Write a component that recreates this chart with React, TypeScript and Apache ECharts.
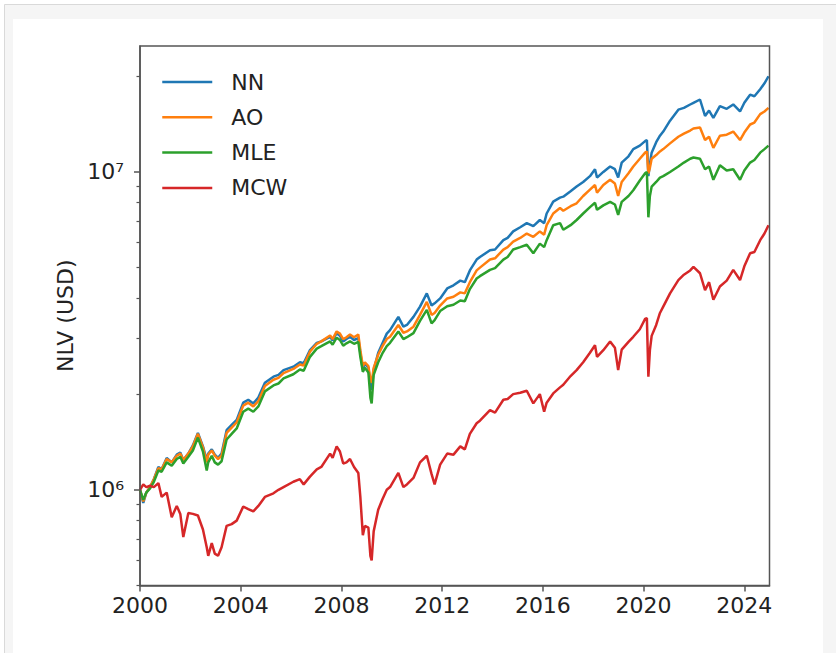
import React, { useEffect, useRef } from "react";
import * as echarts from "echarts";

// decimal years
const dates = [
  2000.0, 2000.13, 2000.25, 2000.4, 2000.55, 2000.73, 2000.86, 2001.06, 2001.26, 2001.46,
  2001.6, 2001.72, 2001.92, 2002.1, 2002.3, 2002.5, 2002.65, 2002.71, 2002.85, 2002.97,
  2003.1, 2003.24, 2003.44, 2003.64, 2003.84, 2004.1, 2004.3, 2004.5, 2004.7, 2004.96,
  2005.3, 2005.5, 2005.7, 2006.09, 2006.35, 2006.5, 2006.75, 2007.02, 2007.2, 2007.55,
  2007.65, 2007.81, 2007.94, 2008.07, 2008.2, 2008.34, 2008.5, 2008.67, 2008.75, 2008.85,
  2008.93, 2009.07, 2009.15, 2009.2, 2009.28, 2009.46, 2009.62, 2009.8, 2009.93, 2010.26,
  2010.46, 2010.6, 2010.86, 2011.12, 2011.39, 2011.58, 2011.7, 2011.92, 2012.2, 2012.45,
  2012.72, 2012.9, 2013.1, 2013.37, 2013.5, 2013.9, 2014.1, 2014.43, 2014.6, 2014.82,
  2015.1, 2015.36, 2015.62, 2015.88, 2016.05, 2016.15, 2016.41, 2016.68, 2016.81, 2017.1,
  2017.34, 2017.6, 2017.87, 2018.07, 2018.15, 2018.4, 2018.67, 2018.86, 2018.99, 2019.13,
  2019.4, 2019.59, 2019.85, 2020.06, 2020.13, 2020.19, 2020.25, 2020.32, 2020.5, 2020.65,
  2020.78, 2021.05, 2021.38, 2021.6, 2021.85, 2021.98, 2022.24, 2022.44, 2022.6, 2022.77,
  2023.03, 2023.3, 2023.56, 2023.83, 2024.0, 2024.23, 2024.4, 2024.63, 2024.8, 2024.96,
];

// NLV in millions of USD
const nn = [
  1.0, 0.91, 0.98, 1.02, 1.08, 1.18, 1.16, 1.26, 1.22, 1.29,
  1.31, 1.24, 1.3, 1.38, 1.51, 1.37, 1.24, 1.3, 1.34, 1.29,
  1.26, 1.3, 1.54, 1.6, 1.66, 1.88, 1.92, 1.87, 1.95, 2.17,
  2.27, 2.3, 2.38, 2.44, 2.52, 2.5, 2.75, 2.9, 2.93, 3.03,
  2.95, 3.11, 3.05, 2.93, 2.98, 3.03, 2.96, 3.0, 2.7, 2.38,
  2.5, 2.42, 2.15, 2.06, 2.38, 2.7, 2.88, 3.1, 3.18, 3.5,
  3.26, 3.3, 3.5, 3.77, 4.15, 3.8, 3.86, 4.0, 4.3, 4.4,
  4.55, 4.5, 4.9, 5.3, 5.4, 5.67, 5.7, 6.1, 6.2, 6.5,
  6.7, 6.9, 6.75, 7.06, 6.9, 7.4, 8.07, 8.3, 8.36, 8.7,
  9.0, 9.3, 9.7, 10.2, 9.6, 10.0, 10.4, 10.2, 9.6, 10.7,
  11.2, 11.8, 12.1, 12.5, 12.6, 9.7, 10.6, 11.5, 12.4, 13.0,
  13.4, 14.5, 15.7, 15.9, 16.3, 16.5, 16.9, 15.0, 15.6, 14.8,
  16.1, 15.8, 16.3, 15.5, 16.5, 17.5, 17.3, 18.2, 19.0, 20.0,
];

const ao = [
  1.0, 0.92, 0.98, 1.02, 1.08, 1.17, 1.16, 1.25, 1.22, 1.28,
  1.3, 1.24, 1.3, 1.37, 1.5, 1.36, 1.22, 1.29, 1.33, 1.28,
  1.25, 1.28, 1.51, 1.57, 1.63, 1.84, 1.88, 1.83, 1.9, 2.12,
  2.22, 2.25, 2.33, 2.4, 2.48, 2.46, 2.72, 2.88, 2.93, 3.06,
  2.98, 3.15, 3.1, 2.98, 3.02, 3.08, 3.02, 3.08, 2.75, 2.45,
  2.52, 2.45, 2.22, 2.17, 2.42, 2.66, 2.82, 2.98, 3.03, 3.3,
  3.12, 3.15, 3.26, 3.55, 3.9, 3.55, 3.6, 3.8, 4.0, 4.05,
  4.18, 4.15, 4.5, 4.9, 5.0, 5.3, 5.35, 5.7, 5.8, 6.04,
  6.2, 6.4, 6.25, 6.5, 6.35, 6.8, 7.4, 7.7, 7.55, 7.8,
  7.97, 8.4, 8.8, 9.1, 8.6, 9.1, 9.45, 9.2, 8.4, 9.3,
  9.9, 10.4, 11.0, 11.5, 11.6, 9.9, 10.3, 11.0, 11.3, 11.6,
  11.8, 12.3, 12.9, 13.2, 13.5, 13.7, 13.8, 12.6, 12.9, 11.9,
  13.0, 13.1, 13.4, 12.6, 13.3, 14.1, 14.3, 15.2, 15.5, 15.9,
];

const mle = [
  1.0, 0.93, 0.98, 1.01, 1.06, 1.15, 1.14, 1.22, 1.19, 1.25,
  1.27, 1.21, 1.27, 1.33, 1.46, 1.32, 1.15, 1.22, 1.28, 1.22,
  1.2, 1.23, 1.44, 1.5, 1.56, 1.76, 1.8, 1.76, 1.83, 2.04,
  2.13, 2.16, 2.24, 2.31, 2.39, 2.37, 2.62, 2.78, 2.83, 2.93,
  2.86, 3.01, 2.96, 2.84, 2.89, 2.93, 2.88, 2.92, 2.62, 2.35,
  2.42, 2.34, 1.95, 1.87, 2.3, 2.52, 2.68, 2.83, 2.9, 3.15,
  2.98, 3.02, 3.11, 3.4, 3.68, 3.34, 3.42, 3.65, 3.78, 3.82,
  3.94, 3.92, 4.28, 4.62, 4.7, 4.92, 4.98, 5.3, 5.4, 5.7,
  5.8, 5.9, 5.55, 5.95, 5.8, 6.1, 6.8, 6.9, 6.58, 6.8,
  7.06, 7.4, 7.75, 8.0, 7.6, 7.85, 8.05, 7.9, 7.33, 8.05,
  8.4, 8.76, 9.4, 9.9, 10.0, 7.2, 8.4, 8.99, 9.3, 9.6,
  9.7, 10.0, 10.4, 10.7, 11.0, 11.1, 11.0, 10.2, 10.4, 9.45,
  10.5, 10.1, 10.2, 9.45, 10.1, 10.7, 10.9, 11.5, 11.8, 12.1,
];

const mcw = [
  1.0, 1.04, 1.02, 1.03, 1.02, 1.05, 0.95, 0.98, 0.82, 0.89,
  0.84, 0.71, 0.845, 0.84, 0.83, 0.75, 0.66, 0.62, 0.68, 0.63,
  0.62, 0.66, 0.77, 0.78, 0.8, 0.886, 0.87, 0.855, 0.89, 0.95,
  0.975, 1.0, 1.02, 1.06, 1.08, 1.04, 1.1, 1.16, 1.18, 1.3,
  1.26, 1.37, 1.32, 1.21, 1.22, 1.25, 1.18, 1.13, 0.95, 0.72,
  0.77, 0.76, 0.62, 0.6, 0.74, 0.865, 0.93, 1.0, 1.02, 1.13,
  1.02, 1.04, 1.09, 1.22, 1.28, 1.12, 1.04, 1.2, 1.3, 1.29,
  1.37, 1.34, 1.5, 1.62, 1.65, 1.78, 1.75, 1.92, 1.93, 2.0,
  2.02, 2.05, 1.87, 2.0, 1.76, 1.88, 2.01, 2.1, 2.14, 2.28,
  2.38, 2.52, 2.7, 2.85, 2.62, 2.75, 2.93, 2.8, 2.38, 2.76,
  2.92, 3.03, 3.2, 3.45, 3.47, 2.27, 2.75, 3.05, 3.3, 3.6,
  3.77, 4.15, 4.57, 4.75, 4.9, 5.03, 4.8, 4.25, 4.5, 3.96,
  4.36, 4.55, 4.92, 4.57, 5.05, 5.55, 5.6, 6.1, 6.4, 6.8,
];

const seriesNames = ["NN", "AO", "MLE", "MCW"];
const seriesColors = ["#1f77b4", "#ff7f0e", "#2ca02c", "#d62728"];
const seriesValues = [nn, ao, mle, mcw];

const xTicks = [2000, 2004, 2008, 2012, 2016, 2020, 2024];
const yMajor = [1e6, 1e7];
const yMinor = [
  5e5, 6e5, 7e5, 8e5, 9e5,
  2e6, 3e6, 4e6, 5e6, 6e6, 7e6, 8e6, 9e6,
  2e7,
];

const SUP: Record<string, string> = {
  "0": "⁰", "1": "¹", "2": "²", "3": "³", "4": "⁴",
  "5": "⁵", "6": "⁶", "7": "⁷", "8": "⁸", "9": "⁹",
};

const FONT = "DejaVu Sans";

export default function App() {
  const ref = useRef<HTMLDivElement>(null);
  useEffect(() => {
    if (!ref.current) return;
    const chart = echarts.init(ref.current, null, { renderer: "svg" });
    const axisColor = "#555";
    const textColor = "#222";
    chart.setOption({
      animation: false,
      backgroundColor: "#ffffff",
      graphic: [
        {
          type: "rect",
          z: -10,
          silent: true,
          shape: { x: 4.5, y: 4.5, width: 840, height: 660 },
          style: { fill: "#f5f5f5", stroke: "#d9d9d9", lineWidth: 1 },
        },
        {
          type: "rect",
          z: -9,
          silent: true,
          shape: { x: 13, y: 19, width: 810, height: 650 },
          style: { fill: "#ffffff" },
        },
      ],
      grid: {
        left: 140,
        top: 46,
        right: 66.5,
        bottom: 67.5,
        show: true,
        borderColor: axisColor,
        borderWidth: 1.5,
        backgroundColor: "transparent",
        z: 3,
      },
      legend: {
        orient: "vertical",
        left: 161,
        top: 71,
        padding: 0,
        itemWidth: 50,
        itemHeight: 22,
        itemGap: 13.3,
        data: seriesNames,
        itemStyle: { opacity: 0, borderWidth: 0 },
        lineStyle: { width: 2.5 },
        textStyle: {
          fontFamily: FONT,
          fontSize: 22,
          color: textColor,
          padding: [0, 0, 0, 14],
        },
      },
      xAxis: {
        type: "value",
        min: 2000,
        max: 2025,
        interval: 4,
        splitLine: { show: false },
        axisLine: { show: true, lineStyle: { color: axisColor, width: 1.5 } },
        axisTick: {
          show: true,
          length: 6,
          customValues: xTicks,
          lineStyle: { color: axisColor, width: 1.5 },
        },
        axisLabel: {
          customValues: xTicks,
          margin: 9,
          fontFamily: FONT,
          fontSize: 22,
          color: textColor,
          formatter: (v: number) => String(Math.round(v)),
        },
      },
      yAxis: [
        {
          type: "log",
          logBase: 10,
          min: 5.0e5,
          max: 2.49e7,
          splitLine: { show: false },
          minorTick: { show: false },
          axisLine: { show: true, lineStyle: { color: axisColor, width: 1.5 } },
          axisTick: {
            show: true,
            length: 6,
            customValues: yMajor,
            lineStyle: { color: axisColor, width: 1.5 },
          },
          axisLabel: {
            customValues: yMajor,
            margin: 16,
            fontFamily: FONT,
            fontSize: 22,
            color: textColor,
            formatter: (v: number) => {
              const e = String(Math.round(Math.log10(v)));
              return "10" + e.split("").map((c) => SUP[c] || c).join("");
            },
          },
          name: "NLV (USD)",
          nameLocation: "middle",
          nameGap: 62,
          nameTextStyle: { fontFamily: FONT, fontSize: 22, color: textColor },
        },
        {
          type: "log",
          logBase: 10,
          min: 5.0e5,
          max: 2.49e7,
          position: "left",
          splitLine: { show: false },
          axisLine: { show: false },
          axisTick: {
            show: true,
            length: 3.5,
            customValues: yMinor,
            lineStyle: { color: axisColor, width: 1.2 },
          },
          axisLabel: { show: false },
        },
      ],
      series: seriesNames.map((name, i) => ({
        name,
        type: "line",
        yAxisIndex: 0,
        symbol: "none",
        showSymbol: false,
        color: seriesColors[i],
        lineStyle: { color: seriesColors[i], width: 2.5 },
        data: dates.map((d, j) => [d, seriesValues[i][j] * 1e6]),
        z: 2 + i * 0.01,
      })),
    });
    return () => chart.dispose();
  }, []);
  return (
    <div
      ref={ref}
      style={{ position: "fixed", left: 0, top: 0, width: 836, height: 653 }}
    />
  );
}
